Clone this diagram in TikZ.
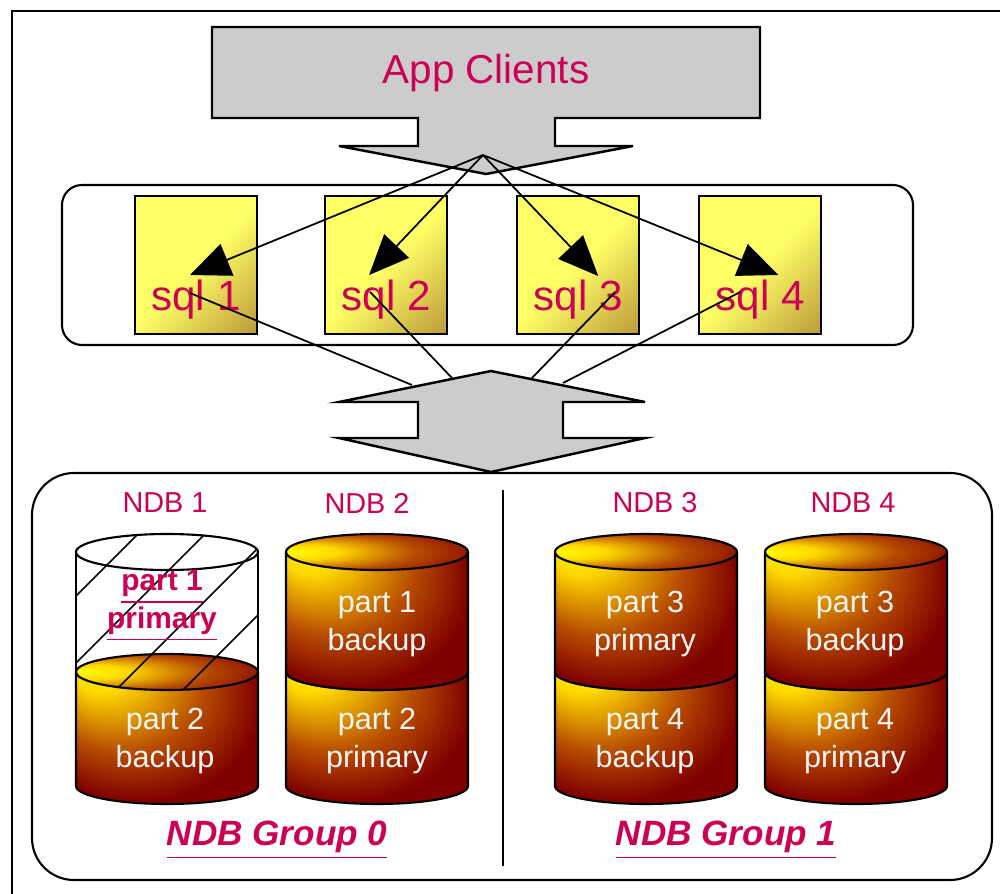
\documentclass[tikz,border=0pt]{standalone}
\usepackage{fontspec}
\setmainfont{Liberation Sans}
\usetikzlibrary{arrows.meta, positioning, calc}

\definecolor{labelred}{RGB}{204,0,85}
\definecolor{boxgray}{RGB}{204,204,204}
\definecolor{sqlyellow}{RGB}{255,255,102}
\definecolor{sqlbrown}{RGB}{160,112,40}
\definecolor{partwhite}{RGB}{245,245,245}

\pgfdeclareverticalshading{sqlglow}{100bp}{color(0bp)=(sqlbrown); color(50bp)=(sqlyellow); color(100bp)=(sqlyellow)}
\pgfdeclareradialshading{bodyglow}{\pgfpoint{-22bp}{26bp}}{rgb(0bp)=(1,1,0); rgb(9bp)=(1,0.85,0); rgb(22bp)=(0.72,0.3,0); rgb(33bp)=(0.5,0,0); rgb(50bp)=(0.5,0,0)}
\pgfdeclareradialshading{capglow}{\pgfpoint{-26bp}{0bp}}{rgb(0bp)=(1,1,0); rgb(10bp)=(1,0.85,0); rgb(24bp)=(0.72,0.3,0); rgb(38bp)=(0.5,0,0); rgb(50bp)=(0.5,0,0)}

% one shaded slice of a disk: x, top y, bottom y
\newcommand{\diskslice}[3]{%
  \shade[shading=bodyglow] (#1-91,#2) -- (#1-91,#3)
    arc[start angle=180, end angle=360, x radius=91, y radius=18]
    -- (#1+91,#2) arc[start angle=0, end angle=180, x radius=91, y radius=18] -- cycle;
  \shade[shading=capglow] (#1,#2) ellipse [x radius=91, y radius=18];
  \draw[diskedge] (#1-91,#2) -- (#1-91,#3)
    arc[start angle=180, end angle=360, x radius=91, y radius=18] -- (#1+91,#2);
  \draw[diskedge] (#1,#2) ellipse [x radius=91, y radius=18];
}

\begin{document}
\begin{tikzpicture}[x=0.1mm, y=0.1mm, >={Triangle[length=4mm, width=3.4mm]},
    flow/.style={draw=black, line width=0.7pt, fill=boxgray},
    panel/.style={draw=black, line width=0.6pt},
    fanline/.style={draw=black, line width=0.5pt},
    diskedge/.style={draw=black, line width=0.6pt},
    sqlbox/.style={draw=black, line width=0.6pt, minimum width=12.2mm, minimum height=13.8mm,
      inner sep=0pt, shading=sqlglow, shading angle=45, text=labelred,
      font=\fontsize{12}{14}\selectfont, text height=9.5mm, text depth=0.5mm},
    ndblabel/.style={text=labelred, font=\fontsize{8.2}{10}\selectfont},
    parttext/.style={text=partwhite, align=center, font=\fontsize{8.7}{10.8}\selectfont},
    grouplabel/.style={text=labelred, font=\fontsize{10}{12}\selectfont\bfseries\itshape}]
    \useasboundingbox (0,0) rectangle (1000,893);
    \draw[line width=0.8pt] (12,-20) rectangle (1020,882);

    % App clients arrow
    \draw[flow] (212,866) -- (760,866) -- (760,775) -- (555,775) -- (555,747) -- (633,747)
      -- (486,719) -- (339,747) -- (418,747) -- (418,775) -- (212,775) -- cycle;
    \node[text=labelred, font=\fontsize{11.5}{14}\selectfont] (app) at (486,820) {App Clients};
    \coordinate (fan) at (483,738);

    % SQL nodes
    \draw[panel, rounded corners=2mm] (62,548) rectangle (913,708);
    \node[sqlbox] (sql1) at (196,628) {sql 1};
    \node[sqlbox, right=6.6mm of sql1] (sql2) {sql 2};
    \node[sqlbox, right=6.8mm of sql2] (sql3) {sql 3};
    \node[sqlbox, right=5.8mm of sql3] (sql4) {sql 4};

    % NDB arrow
    \draw[flow] (491,522) -- (645,491) -- (563,491) -- (563,455) -- (645,455) -- (491,421)
      -- (339,455) -- (418,455) -- (418,491) -- (339,491) -- cycle;
    \coordinate (join1) at (412,508);
    \coordinate (join2) at (452,515);
    \coordinate (join3) at (532,515);
    \coordinate (join4) at (563,510);

    \path[fanline]
    % clients to each sql node
    (fan) edge[->] ($(sql1)+(-6,-10)$)
    (fan) edge[->] ($(sql2)+(-17,-10)$)
    (fan) edge[->] ($(sql3)+(20,-11)$)
    (fan) edge[->] ($(sql4)+(18,-10)$)
    % sql nodes down to the data nodes
    ($(sql1)+(-6,-28)$) edge (join1)
    ($(sql2)+(-16,-27)$) edge (join2)
    ($(sql3)+(37,-27)$) edge (join3)
    ($(sql4)+(-20,-27)$) edge (join4);

    % Data nodes
    \draw[panel, rounded corners=4.2mm] (32,13) rectangle (992,420);
    \draw[panel] (503,27) -- (503,403);

    \node[ndblabel] (ndb1) at (165,390) {NDB 1};
    \node[ndblabel] (ndb2) at (367,390) {NDB 2};
    \node[ndblabel] (ndb3) at (655,390) {NDB 3};
    \node[ndblabel] (ndb4) at (853,390) {NDB 4};

    % NDB 1: lower slice, then the hatched upper slice
    \diskslice{167}{221}{107}
    \begin{scope}
      \clip (76,341) -- (76,221) arc[start angle=180, end angle=360, x radius=91, y radius=18]
        -- (258,341) arc[start angle=0, end angle=180, x radius=91, y radius=18] -- cycle;
      \foreach \k in {288,221,154,87,20,-47}
        \draw[fanline] (40,40+\k) -- (300,300+\k);
    \end{scope}
    \draw[diskedge] (76,341) -- (76,221) (258,341) -- (258,221);
    \draw[diskedge] (167,341) ellipse [x radius=91, y radius=18];

    % NDB 2 to NDB 4
    \diskslice{377}{221}{107}
    \diskslice{377}{341}{221}
    \diskslice{646}{221}{107}
    \diskslice{646}{341}{221}
    \diskslice{856}{221}{107}
    \diskslice{856}{341}{221}

    \node[parttext, text=labelred, font=\fontsize{8.5}{10.8}\selectfont\bfseries] (ndb1top) at (162,287) {\underline{part 1}\\\underline{primary}};
    \node[parttext] (ndb1low) at (165,152) {part 2\\backup};
    \node[parttext] (ndb2top) at (377,269) {part 1\\backup};
    \node[parttext] (ndb2low) at (377,152) {part 2\\primary};
    \node[parttext] (ndb3top) at (645,269) {part 3\\primary};
    \node[parttext] (ndb3low) at (645,152) {part 4\\backup};
    \node[parttext] (ndb4top) at (855,269) {part 3\\backup};
    \node[parttext] (ndb4low) at (855,152) {part 4\\primary};

    \node[grouplabel] (group0) at (277,53) {\underline{NDB Group 0}};
    \node[grouplabel] (group1) at (726,53) {\underline{NDB Group 1}};
\end{tikzpicture}
\end{document}
